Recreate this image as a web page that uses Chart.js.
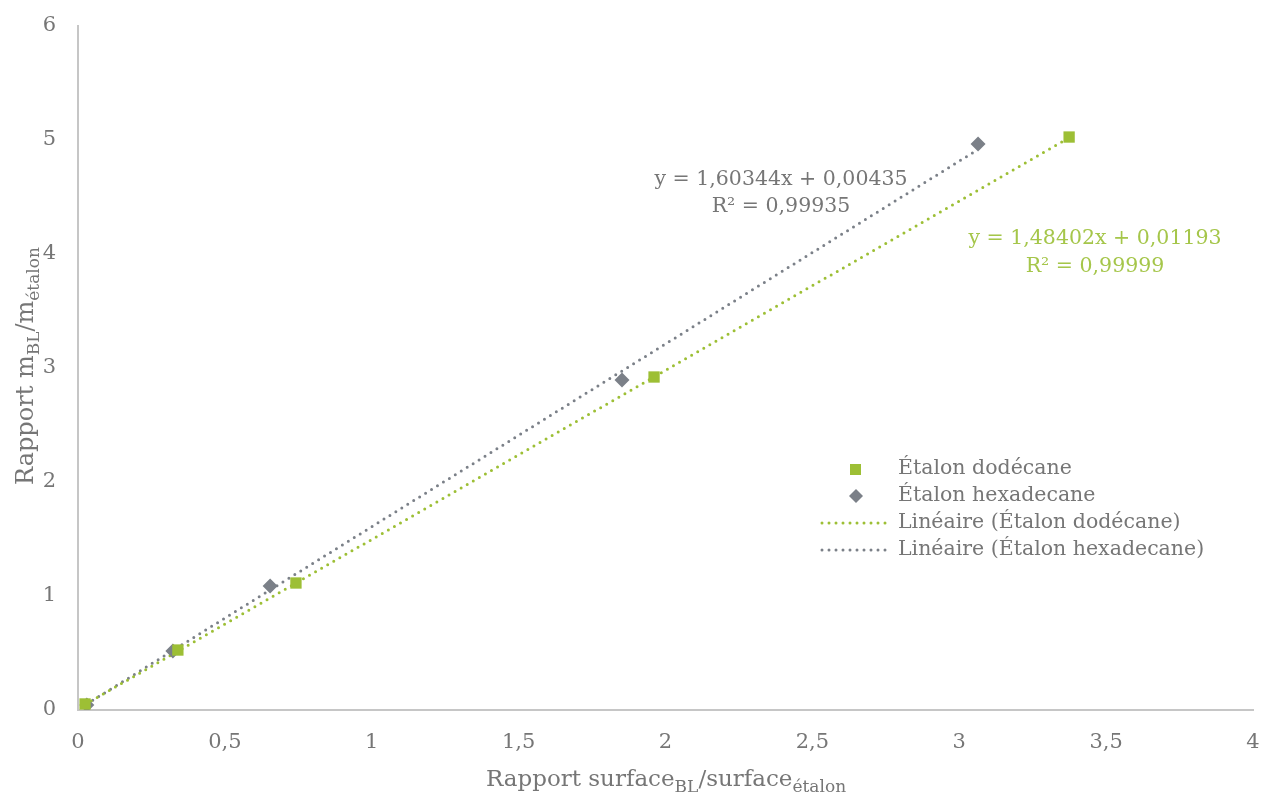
<!DOCTYPE html>
<html>
<head>
<meta charset="utf-8">
<script src="https://cdn.jsdelivr.net/npm/chart.js@4/dist/chart.umd.min.js"></script>
<style>
  html, body { margin: 0; padding: 0; background: #fff; }
  #wrap { width: 1261px; height: 794px; }
</style>
</head>
<body>
<div id="wrap"><canvas id="graphe"></canvas></div>
<script>
// données
const dodecaneX = [0.024, 0.34, 0.742, 1.961, 3.374];
const dodecaneY = [0.053, 0.526, 1.114, 2.921, 5.026];
const hexadecaneX = [0.03, 0.323, 0.654, 1.852, 3.064];
const hexadecaneY = [0.044, 0.518, 1.088, 2.895, 4.965];

// régressions linéaires (dodécane, hexadecane)
const pente = [1.48402, 1.60344];
const ordonnee = [0.01193, 0.00435];
const r2 = ['0,99999', '0,99935'];

const seriesNames = ['Étalon dodécane', 'Étalon hexadecane'];
const xTicks = [0, 0.5, 1, 1.5, 2, 2.5, 3, 3.5, 4];
const yTicks = [0, 1, 2, 3, 4, 5, 6];

const VERT = '#9dbf35';
const GRIS = '#7b8088';
const TEXTE = '#767676';
const POLICE = '"DejaVu Serif", "Liberation Serif", serif';

function points(xs, ys) {
    return xs.map((x, i) => ({ x: x, y: ys[i] }));
}

function tendance(xs, k) {
    const xmin = Math.min(...xs), xmax = Math.max(...xs);
    return [xmin, xmax].map(x => ({ x: x, y: pente[k] * x + ordonnee[k] }));
}

function virgule(v) {
    return String(v).replace('.', ',');
}

// texte avec indices (m_BL, surface_étalon)
function texteIndice(ctx, parts, x, y, size) {
    const sub = Math.round(size * 0.72);
    let total = 0;
    parts.forEach(p => {
        ctx.font = (p.sub ? sub : size) + 'px ' + POLICE;
        total += ctx.measureText(p.t).width;
    });
    let cx = x - total / 2;
    ctx.textAlign = 'left';
    ctx.textBaseline = 'alphabetic';
    parts.forEach(p => {
        ctx.font = (p.sub ? sub : size) + 'px ' + POLICE;
        ctx.fillText(p.t, cx, p.sub ? y + size * 0.25 : y);
        cx += ctx.measureText(p.t).width;
    });
}

const decorPlugin = {
    id: 'decor',
    afterDraw(chart) {
        const ctx = chart.ctx;
        ctx.save();
        ctx.fillStyle = TEXTE;

        // titres des axes
        texteIndice(ctx, [{ t: 'Rapport surface' }, { t: 'BL', sub: true }, { t: '/surface' }, { t: 'étalon', sub: true }], 666, 786, 23);
        ctx.save();
        ctx.translate(33, 366);
        ctx.rotate(-Math.PI / 2);
        texteIndice(ctx, [{ t: 'Rapport m' }, { t: 'BL', sub: true }, { t: '/m' }, { t: 'étalon', sub: true }], 0, 0, 24);
        ctx.restore();

        // équations des courbes de tendance
        ctx.textAlign = 'center';
        ctx.textBaseline = 'middle';
        ctx.font = '20.5px ' + POLICE;
        const eq = k => 'y = ' + virgule(pente[k]) + 'x + ' + virgule(ordonnee[k]);
        ctx.fillStyle = TEXTE;
        ctx.fillText(eq(1), 781, 180);
        ctx.fillText('R² = ' + r2[1], 781, 207);
        ctx.fillStyle = '#a5c64a';
        ctx.fillText(eq(0), 1095, 239);
        ctx.fillText('R² = ' + r2[0], 1095, 267);

        // légende
        const lx = 898, ly = [469, 496, 523, 550];
        ctx.textAlign = 'left';
        ctx.fillStyle = TEXTE;
        const libelles = [seriesNames[0], seriesNames[1], 'Linéaire (' + seriesNames[0] + ')', 'Linéaire (' + seriesNames[1] + ')'];
        libelles.forEach((t, i) => ctx.fillText(t, lx, ly[i]));
        ctx.fillStyle = VERT;
        ctx.fillRect(850, ly[0] - 5, 11, 11);
        ctx.fillStyle = GRIS;
        ctx.beginPath();
        ctx.moveTo(856, ly[1] - 7); ctx.lineTo(863, ly[1]); ctx.lineTo(856, ly[1] + 7); ctx.lineTo(849, ly[1]);
        ctx.closePath(); ctx.fill();
        [VERT, GRIS].forEach((c, i) => {
            ctx.strokeStyle = c;
            ctx.lineWidth = 3;
            ctx.lineCap = 'round';
            ctx.setLineDash([0, 7]);
            ctx.beginPath();
            ctx.moveTo(822, ly[2 + i]);
            ctx.lineTo(888, ly[2 + i]);
            ctx.stroke();
        });
        ctx.restore();
    }
};

function dessinerGraphique() {
    const ctx = document.getElementById('graphe').getContext('2d');

    new Chart(ctx, {
        type: 'scatter',
        data: {
            datasets: [
                {
                    label: seriesNames[0],
                    data: points(dodecaneX, dodecaneY),
                    pointStyle: 'rect',
                    pointRadius: 8,
                    backgroundColor: VERT,
                    borderColor: VERT,
                    borderWidth: 0,
                    order: 0
                },
                {
                    label: seriesNames[1],
                    data: points(hexadecaneX, hexadecaneY),
                    pointStyle: 'rectRot',
                    pointRadius: 7.5,
                    backgroundColor: GRIS,
                    borderColor: GRIS,
                    borderWidth: 0,
                    order: 0
                },
                {
                    label: 'Linéaire (' + seriesNames[0] + ')',
                    data: tendance(dodecaneX, 0),
                    showLine: true,
                    pointRadius: 0,
                    borderColor: VERT,
                    borderWidth: 3,
                    borderDash: [0, 7],
                    borderCapStyle: 'round',
                    order: 1
                },
                {
                    label: 'Linéaire (' + seriesNames[1] + ')',
                    data: tendance(hexadecaneX, 1),
                    showLine: true,
                    pointRadius: 0,
                    borderColor: GRIS,
                    borderWidth: 3,
                    borderDash: [0, 7],
                    borderCapStyle: 'round',
                    order: 1
                }
            ]
        },
        options: {
            responsive: true,
            maintainAspectRatio: false,
            animation: false,
            layout: { padding: { top: 26, right: 8, left: 0, bottom: 0 } },
            scales: {
                x: {
                    min: 0,
                    max: 4,
                    afterBuildTicks: s => { s.ticks = xTicks.map(v => ({ value: v })); },
                    afterFit: s => { s.height = 84; s.paddingLeft = 0; s.paddingRight = 0; },
                    grid: { display: false, drawTicks: false },
                    border: { display: true, color: '#c6c6c6', width: 2 },
                    ticks: {
                        color: TEXTE,
                        font: { family: POLICE, size: 21 },
                        padding: 20,
                        maxRotation: 0,
                        callback: v => virgule(v)
                    }
                },
                y: {
                    min: 0,
                    max: 6,
                    afterBuildTicks: s => { s.ticks = yTicks.map(v => ({ value: v })); },
                    afterFit: s => { s.width = 78; s.paddingTop = 0; s.paddingBottom = 0; },
                    grid: { display: false, drawTicks: false },
                    border: { display: true, color: '#c6c6c6', width: 2 },
                    ticks: {
                        color: TEXTE,
                        font: { family: POLICE, size: 21 },
                        padding: 22,
                        callback: v => virgule(v)
                    }
                }
            },
            plugins: {
                legend: { display: false },
                tooltip: { enabled: false }
            }
        },
        plugins: [decorPlugin]
    });
}

document.addEventListener('DOMContentLoaded', dessinerGraphique);
</script>
</body>
</html>
